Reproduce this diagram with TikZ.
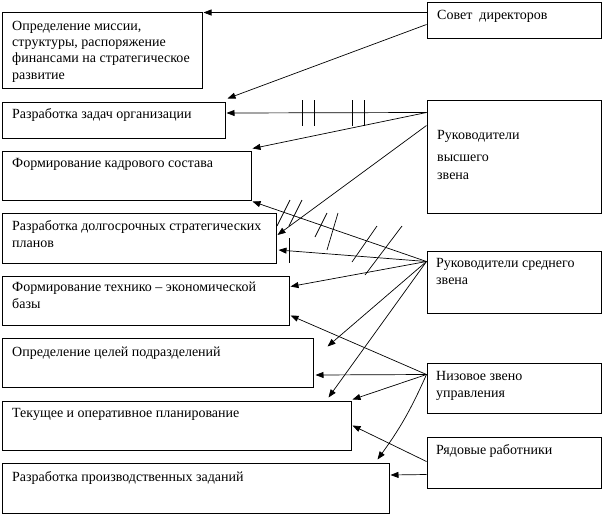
\documentclass[tikz,border=0pt]{standalone}
\usepackage{fontspec}
\setmainfont{Liberation Serif}
\usetikzlibrary{arrows.meta,calc}
\begin{document}
\begin{tikzpicture}[x=1pt,y=-1pt,
  box/.style={draw,line width=1pt,inner sep=0pt},
  txt/.style={anchor=base west,inner sep=0pt,align=left,font=\fontsize{14}{16.3}\selectfont},
  arr/.style={line width=0.7pt,-{Triangle[length=8pt,width=6pt]}},
  tick/.style={line width=0.7pt}]
\useasboundingbox (0,0) rectangle (603,515);
% left boxes
\node[box,minimum width=200,minimum height=76] (b1) at (102,50) {};
\node[box,minimum width=223,minimum height=36] (b2) at (113.5,120) {};
\node[box,minimum width=249,minimum height=49] (b3) at (126.5,175.5) {};
\node[box,minimum width=274,minimum height=50] (b4) at (139,238) {};
\node[box,minimum width=287,minimum height=49] (b5) at (145.5,300.5) {};
\node[box,minimum width=311,minimum height=49] (b6) at (157.5,362.5) {};
\node[box,minimum width=349,minimum height=49] (b7) at (176.5,425.5) {};
\node[box,minimum width=387,minimum height=50] (b8) at (195.5,488) {};
% right boxes
\node[box,minimum width=174,minimum height=36] (A) at (514,20) {};
\node[box,minimum width=174,minimum height=113] (B) at (514,156.5) {};
\node[box,minimum width=174,minimum height=62] (C) at (514,282) {};
\node[box,minimum width=174,minimum height=50] (D) at (514,388) {};
\node[box,minimum width=174,minimum height=51] (E) at (514,462.5) {};
% texts (anchor = baseline of the last line)
\node[txt] (t1) at (12,79) {Определение миссии,\\структуры, распоряжение\\финансами на стратегическое\\развитие};
\node[txt] (t2) at (12,118) {Разработка задач организации};
\node[txt] (t3) at (12,167) {Формирование кадрового состава};
\node[txt] (t4) at (12,247) {Разработка долгосрочных стратегических\\планов};
\node[txt] (t5) at (12,308) {Формирование технико – экономической\\базы};
\node[txt] (t6) at (12,356) {Определение целей подразделений};
\node[txt] (t7) at (12,417) {Текущее и оперативное планирование};
\node[txt] (t8) at (12,481) {Разработка производственных заданий};
\node[txt] (tA) at (437,19) {Совет~~директоров};
\node[txt] (tB) at (437,179) {Руководители\\[5.7pt]высшего\\[1.7pt]звена};
\node[txt] (tC) at (436,284) {Руководители среднего\\звена};
\node[txt] (tD) at (436,397) {Низовое звено\\управления};
\node[txt] (tE) at (436,454) {Рядовые работники};
% connectors
\draw[arr] ([yshift=-11]A.north west) -- ([xshift=1,yshift=-1]b1.north east);
\draw[arr] ([yshift=-23]A.north west) -- ([xshift=2,yshift=3]b2.north east);
\draw[arr] ([yshift=-13]B.north west) -- ([xshift=1,yshift=7]b2.east);
\draw[arr] ([yshift=-13]B.north west) -- ([xshift=1,yshift=2]b3.north east);
\draw[arr] ([yshift=-26]B.north west) -- ([xshift=1,yshift=3]b4.east);
\draw[arr] ([yshift=-11]C.north west) -- ([xshift=1,yshift=-1]b3.south east);
\draw[arr] ([yshift=-11]C.north west) -- ([xshift=2,yshift=-12]b4.east);
\draw[arr] ([yshift=-11]C.north west) -- ([xshift=1,yshift=-11]b5.north east);
\draw[arr] ([yshift=-11]C.north west) -- ([xshift=14,yshift=-9]b6.north east);
\draw[arr] ([yshift=-11]C.north west) -- ([xshift=-23,yshift=3]b7.north east);
\draw[arr] ([yshift=-12]D.north west) -- ([xshift=1,yshift=10]b5.south east);
\draw[arr] ([yshift=-12]D.north west) -- ([xshift=2,yshift=-12.5]b6.east);
\draw[arr] ([yshift=-12]D.north west) -- ([xshift=1,yshift=1]b7.north east);
\draw[arr] ([yshift=-12]D.north west) to[bend left=6] ([xshift=-12,yshift=3]b8.north east);
\draw[arr] ([yshift=-25]E.north west) -- ([xshift=1]b7.east);
\draw[arr] ([yshift=-38]E.north west) -- ([xshift=1,yshift=13]b8.east);
% tick marks
\draw[tick] (302,100) -- (302,126) (314,100) -- (314,126)
            (352,100) -- (352,126) (364,100) -- (364,126);
\draw[tick] (277,226) -- (290,200) (289,226) -- (302,200);
\draw[tick] (315,237) -- (327,213) (327,250) -- (338,213);
\draw[tick] (352,262) -- (377,226) (365,275) -- (402,226);
\draw[tick] (289,238) -- (289,263);
\end{tikzpicture}
\end{document}
